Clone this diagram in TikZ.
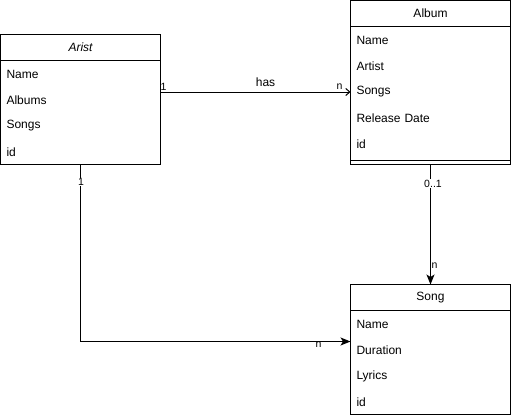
\documentclass[tikz,border=0pt]{standalone}
\usepackage{fontspec}
\setmainfont{Liberation Sans}
\usetikzlibrary{arrows.meta}
\tikzset{
  classbox/.style={draw, line width=1pt, minimum width=160pt, inner sep=0pt, outer sep=0pt, anchor=north west},
  hdrtext/.style={font=\fontsize{12}{14}\selectfont, inner sep=0pt},
  field/.style={anchor=north west, minimum width=160pt, minimum height=26pt, text width=148pt, inner xsep=6pt, inner ysep=0pt, align=left, font=\fontsize{12}{14}\selectfont, outer sep=0pt},
  sepline/.style={line width=1pt},
  edge/.style={line width=1pt},
  mult/.style={font=\fontsize{10.5}{12}\selectfont, inner sep=0.5pt},
  multbg/.style={mult, fill=white},
  rellabel/.style={font=\fontsize{12}{14}\selectfont, inner sep=0pt},
  openarrow/.style={-{Straight Barb[length=4pt,width=7pt,line width=1pt]}},
  fillarrow/.style={-{Stealth[length=10pt,width=8pt,inset=2.5pt]}},
}
\begin{document}
\begin{tikzpicture}[x=1pt,y=-1pt]
\useasboundingbox (0,0) rectangle (511,418);

% Arist
\node[classbox, minimum height=130pt] (arist) at (0.5,34.5) {};
\node[hdrtext] (aristhdr) at (80.5,47.5) {\itshape Arist};
\node[field] (arname) at (0.5,61) {Name};
\node[field] (aralbums) at (0.5,87) {Albums};
\node[field] (arsongs) at (0.5,113) {Songs};
\node[field] (arid) at (0.5,139) {id};
\draw[sepline] (arist.north west) ++(0,26) -- ++(160,0);

% Album
\node[classbox, minimum height=164pt] (album) at (350.5,0.5) {};
\node[hdrtext] (albumhdr) at (430.5,13.5) {Album};
\node[field] (alname) at (350.5,27) {Name};
\node[field] (alartist) at (350.5,53) {Artist};
\node[field] (alsongs) at (350.5,79) {Songs};
\node[field] (aldate) at (350.5,105) {Release Date};
\node[field] (alid) at (350.5,131) {id};
\draw[sepline] (album.north west) ++(0,26) -- ++(160,0);
\draw[sepline] (album.south west) ++(0,-4) -- ++(160,0);

% Song
\node[classbox, minimum height=130pt] (song) at (350.5,284.5) {};
\node[hdrtext] (songhdr) at (430.5,297.5) {Song};
\node[field] (soname) at (350.5,311) {Name};
\node[field] (sodur) at (350.5,337) {Duration};
\node[field] (solyr) at (350.5,363) {Lyrics};
\node[field] (soid) at (350.5,389) {id};
\draw[sepline] (song.north west) ++(0,26) -- ++(160,0);

% connectors
\draw[edge, openarrow] (arist.east |- alsongs.west) -- (alsongs.west);
\draw[edge, fillarrow] (album.south) -- (song.north);
\draw[edge, fillarrow] (arist.south) |- ([yshift=-57pt]song.north west);

% labels
\node[rellabel] (lhas) at (265.5,82) {has};
\node[mult] (m1a) at (163.5,86.5) {1};
\node[mult] (mna) at (339.5,87) {n};
\node[multbg] (m1b) at (81,182) {1};
\node[multbg] (m01) at (433,183.5) {0..1};
\node[mult] (mnb) at (434.5,265.5) {n};
\node[mult] (mnc) at (318.5,344.5) {n};
\end{tikzpicture}
\end{document}
